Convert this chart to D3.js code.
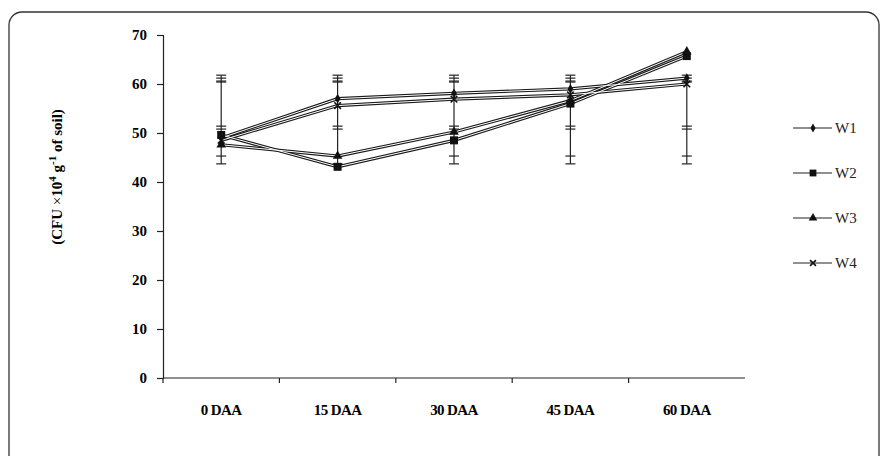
<!DOCTYPE html>
<html>
<head>
<meta charset="utf-8">
<script src="https://cdn.jsdelivr.net/npm/d3@7"></script>
<style>
  body { margin: 0; background: #fff; }
  svg { display: block; font-family: "Liberation Serif", "Times New Roman", serif; }
</style>
</head>
<body>
<svg id="chart" width="883" height="456"></svg>
<script>
// data
const categories = ["0 DAA", "15 DAA", "30 DAA", "45 DAA", "60 DAA"];
const seriesNames = ["W1", "W2", "W3", "W4"];
const w1 = [49.0, 57.0, 58.1, 59.0, 61.2];
const w2 = [49.6, 43.1, 48.5, 56.0, 65.7];
const w3 = [47.6, 45.3, 50.2, 56.6, 66.6];
const w4 = [48.5, 55.6, 56.9, 57.8, 60.0];
// error bars are the same at every category in the figure
const errLow = [43.7, 45.3, 50.8, 51.4];
const errHigh = [61.8, 61.2, 60.4, 60.6];
const yTicks = [0, 10, 20, 30, 40, 50, 60, 70];
const symbols = ["diamond", "square", "triangle", "cross"];

const values = [w1, w2, w3, w4];
const svg = d3.select("#chart");
const ink = "#222";

// rounded frame
svg.append("rect")
  .attr("x", 9).attr("y", 12)
  .attr("width", 870).attr("height", 458)
  .attr("rx", 13).attr("ry", 13)
  .attr("fill", "none").attr("stroke", "#333").attr("stroke-width", 1.3);

const x = d3.scaleBand().domain(categories).range([163, 745]);
const y = d3.scaleLinear().domain([0, 70]).range([378, 35]);

// y axis
const yAxis = svg.append("g")
  .attr("transform", "translate(163,0)")
  .call(d3.axisLeft(y).tickValues(yTicks).tickSize(6).tickPadding(10));
yAxis.select(".domain").attr("stroke", ink).attr("stroke-width", 1.2);
yAxis.selectAll(".tick line").attr("stroke", ink).attr("stroke-width", 1.2);
yAxis.selectAll("text")
  .attr("font-family", "Liberation Serif").attr("font-weight", "bold")
  .attr("font-size", 15).attr("fill", "#000");

// x axis, ticks at the band edges
const xAxis = svg.append("g").attr("transform", "translate(0,378)");
xAxis.append("line")
  .attr("x1", 163).attr("x2", 745).attr("y1", 0).attr("y2", 0)
  .attr("stroke", ink).attr("stroke-width", 1.2);
xAxis.selectAll(".edge")
  .data(categories)
  .enter().append("line")
  .attr("x1", (d) => x(d)).attr("x2", (d) => x(d))
  .attr("y1", 0).attr("y2", 5)
  .attr("stroke", ink).attr("stroke-width", 1.2);
xAxis.selectAll(".lbl")
  .data(categories)
  .enter().append("text")
  .attr("x", (d) => x(d) + x.bandwidth() / 2)
  .attr("y", 37)
  .attr("text-anchor", "middle")
  .attr("font-weight", "bold").attr("font-size", 15)
  .attr("letter-spacing", -0.6)
  .attr("fill", "#000")
  .text((d) => d);

// y axis title
const title = svg.append("text")
  .attr("transform", "translate(62,177) rotate(-90)")
  .attr("text-anchor", "middle")
  .attr("font-weight", "bold").attr("font-size", 15).attr("fill", "#000");
title.append("tspan").text("(CFU ");
title.append("tspan").attr("font-weight", "normal").text("\u00d7");
title.append("tspan").text("10");
title.append("tspan").attr("font-size", 11).attr("dy", -6).text("4");
title.append("tspan").attr("dy", 6).text(" g");
title.append("tspan").attr("font-size", 11).attr("dy", -6).text("-1");
title.append("tspan").attr("dy", 6).text(" of soil)");

const cx = (i) => x(categories[i]) + x.bandwidth() / 2;

// error bars
const errG = svg.append("g").attr("stroke", ink).attr("stroke-width", 1.2);
categories.forEach((c, i) => {
  errG.append("line")
    .attr("x1", cx(i)).attr("x2", cx(i))
    .attr("y1", y(d3.min(errLow))).attr("y2", y(d3.max(errHigh)));
  seriesNames.forEach((s, k) => {
    [errLow[k], errHigh[k]].forEach((v) => {
      errG.append("line")
        .attr("x1", cx(i) - 5).attr("x2", cx(i) + 5)
        .attr("y1", y(v)).attr("y2", y(v));
    });
  });
});

// series lines, drawn hollow like the scan
const line = d3.line().x((d, i) => cx(i)).y((d) => y(d));
values.forEach((vals) => {
  svg.append("path").attr("d", line(vals))
    .attr("fill", "none").attr("stroke", "#1a1a1a").attr("stroke-width", 3.2);
});
values.forEach((vals) => {
  svg.append("path").attr("d", line(vals))
    .attr("fill", "none").attr("stroke", "#fff").attr("stroke-width", 1.0);
});

function drawMarker(g, type, px, py, scale) {
  if (type === "diamond") {
    g.append("path").attr("d", d3.symbol(d3.symbolDiamond, 28 * scale)())
      .attr("transform", `translate(${px},${py})`).attr("fill", "#111");
  } else if (type === "square") {
    g.append("rect").attr("x", px - 4 * scale).attr("y", py - 4 * scale)
      .attr("width", 8 * scale).attr("height", 8 * scale).attr("fill", "#111");
  } else if (type === "triangle") {
    g.append("path").attr("d", d3.symbol(d3.symbolTriangle, 40 * scale)())
      .attr("transform", `translate(${px},${py})`).attr("fill", "#111");
  } else {
    g.append("path").attr("d", d3.symbol(d3.symbolX, 30 * scale)())
      .attr("transform", `translate(${px},${py})`)
      .attr("fill", "none").attr("stroke", "#111").attr("stroke-width", 1.6);
  }
}

const markG = svg.append("g");
values.forEach((vals, k) => {
  vals.forEach((v, i) => drawMarker(markG, symbols[k], cx(i), y(v), 1));
});

// legend
const legY = d3.scalePoint().domain(seriesNames).range([128, 263]);
const leg = svg.append("g");
seriesNames.forEach((s, k) => {
  const ly = legY(s);
  leg.append("line").attr("x1", 793).attr("x2", 832).attr("y1", ly).attr("y2", ly)
    .attr("stroke", ink).attr("stroke-width", 1.2);
  drawMarker(leg, symbols[k], 813, ly, k === 1 ? 0.85 : 0.8);
  leg.append("text").attr("x", 835).attr("y", ly + 5)
    .attr("font-size", 15).attr("fill", "#222").text(s);
});
</script>
</body>
</html>
